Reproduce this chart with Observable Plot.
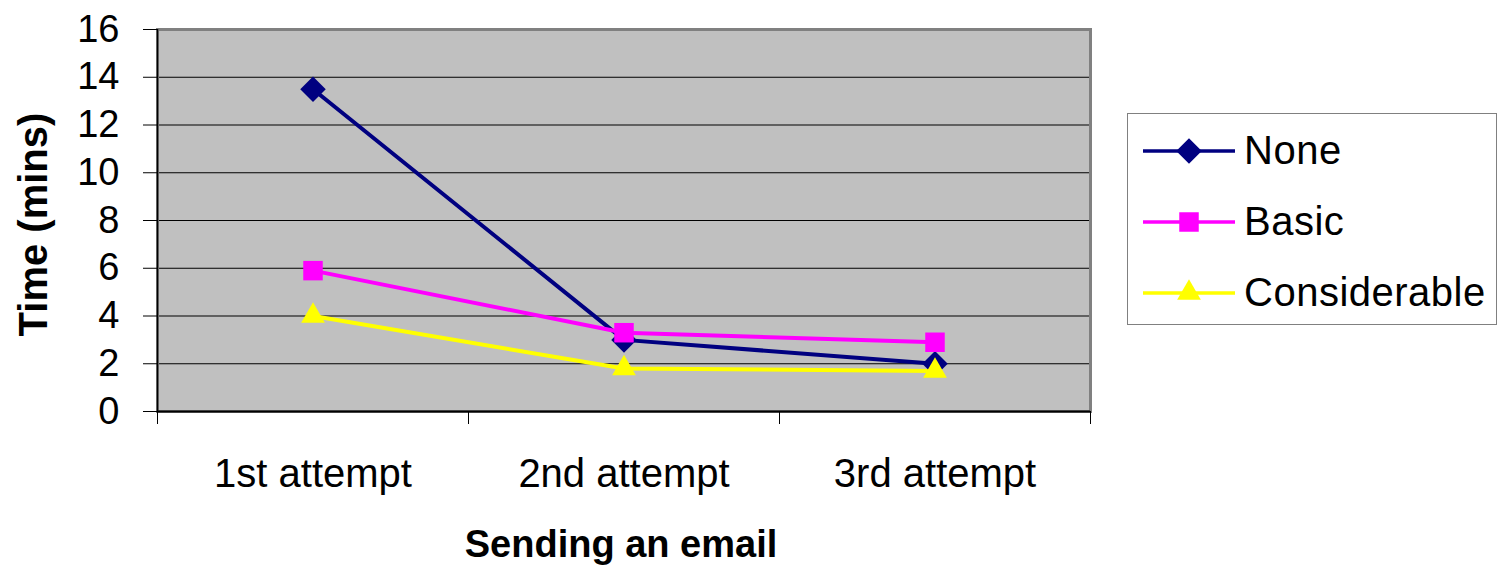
<!DOCTYPE html>
<html>
<head>
<meta charset="utf-8">
<script src="https://cdn.jsdelivr.net/npm/d3@7"></script>
<script src="https://cdn.jsdelivr.net/npm/@observablehq/plot@0.6"></script>
<style>
  body { margin: 0; background: #fff; }
  #wrap { position: relative; width: 1498px; height: 575px; font-family: "Liberation Sans", Arial, sans-serif; }
  #legend {
    position: absolute; left: 1127px; top: 113px; width: 370px; height: 212px;
    box-sizing: border-box; border: 1.5px solid #808080; background: #fff;
    padding-top: 1px;
  }
  .row { display: flex; align-items: center; height: 71px; padding-left: 15px; }
  .row span { font-size: 40px; letter-spacing: 0.5px; margin-left: 9px; color: #000; }
</style>
</head>
<body>
<div id="wrap"></div>
<script>
// Time taken to send an email, by attempt and level of prior experience
const categories = ["1st attempt", "2nd attempt", "3rd attempt"];
const seriesNames = ["None", "Basic", "Considerable"];
const noneValues = [13.5, 3.0, 2.0];
const basicValues = [5.9, 3.3, 2.9];
const considerableValues = [4.0, 1.8, 1.7];
const yTicks = [0, 2, 4, 6, 8, 10, 12, 14, 16];

const seriesValues = [noneValues, basicValues, considerableValues];
const seriesColors = ["#000080", "#FF00FF", "#FFFF00"];

// filled marker shapes (a rotated square for the diamond)
const diamondSymbol = {draw: (context, size) => d3.symbolDiamond2.draw(context, size)};
const squareSymbol = {draw: (context, size) => d3.symbolSquare.draw(context, size)};
const triangleSymbol = {draw: (context, size) => d3.symbolTriangle.draw(context, size)};
const seriesSymbols = [diamondSymbol, squareSymbol, triangleSymbol];
const markerRadius = [11.5, 11, 8.8];

// one record per series and attempt; "key" is the series position
const data = seriesNames.flatMap((name, k) =>
  seriesValues[k].map((value, i) => ({series: name, key: k, index: i, category: categories[i], value}))
);

// band boundaries between categories (for the short x tick marks)
const boundaries = d3.range(categories.length + 1).map(i => i - 0.5);
const xDomain = [boundaries[0], boundaries[boundaries.length - 1]];

const chart = Plot.plot({
  width: 1498,
  height: 575,
  marginLeft: 157,
  marginRight: 408,
  marginTop: 29,
  marginBottom: 164,
  style: {fontFamily: "'Liberation Sans', Arial, sans-serif", fontSize: "38px", color: "#000", background: "transparent", overflow: "visible"},
  x: {type: "linear", domain: xDomain, axis: null},
  y: {domain: [0, 16], axis: null},
  color: {type: "ordinal", domain: d3.range(seriesNames.length), range: seriesColors},
  marks: [
    Plot.frame({fill: "#C0C0C0", stroke: null}),
    Plot.ruleY(yTicks.filter(v => v > 0 && v < 16), {stroke: "#000", strokeWidth: 1}),
    Plot.frame({stroke: "#808080", strokeWidth: 3}),
    Plot.ruleY([0], {stroke: "#000", strokeWidth: 2}),
    Plot.ruleX([xDomain[0]], {stroke: "#000", strokeWidth: 1.5}),
    Plot.axisY(yTicks, {anchor: "left", tickSize: 14, tickPadding: 24, fontSize: 38, label: null, stroke: "#000"}),
    Plot.axisX(boundaries, {anchor: "bottom", tickSize: 13, tickFormat: () => "", label: null, stroke: "#000"}),
    Plot.axisX(d3.range(categories.length), {anchor: "bottom", tickSize: 0, tickPadding: 47, fontSize: 40, tickFormat: i => categories[i], label: null}),
    Plot.line(data, {x: "index", y: "value", z: "key", stroke: "key", strokeWidth: 4}),
    ...seriesNames.map((name, k) =>
      Plot.dot(data.filter(d => d.key === k), {x: "index", y: "value", symbol: seriesSymbols[k], fill: seriesColors[k], stroke: "none", r: markerRadius[k]})
    ),
    Plot.text(["Time (mins)"], {frameAnchor: "left", textAnchor: "middle", lineAnchor: "middle", rotate: -90, dx: -123, dy: 4, fontSize: 40, fontWeight: "bold", fill: "#000"}),
    Plot.text(["Sending an email"], {frameAnchor: "bottom", textAnchor: "middle", lineAnchor: "middle", dy: 133, dx: -3, fontSize: 38, fontWeight: "bold", fill: "#000"})
  ]
});

const wrap = document.getElementById("wrap");
wrap.appendChild(chart);

// legend
const legend = d3.select(wrap).append("div").attr("id", "legend");
seriesNames.forEach((name, k) => {
  const row = legend.append("div").attr("class", "row");
  const svg = row.append("svg").attr("width", 92).attr("height", 30);
  svg.append("line").attr("x1", 0).attr("x2", 92).attr("y1", 15).attr("y2", 15)
    .attr("stroke", seriesColors[k]).attr("stroke-width", 3.5);
  const r = markerRadius[k];
  svg.append("path")
    .attr("transform", "translate(46,15)")
    .attr("d", d3.symbol(seriesSymbols[k], Math.PI * r * r)())
    .attr("fill", seriesColors[k]);
  row.append("span").text(name);
});
</script>
</body>
</html>
